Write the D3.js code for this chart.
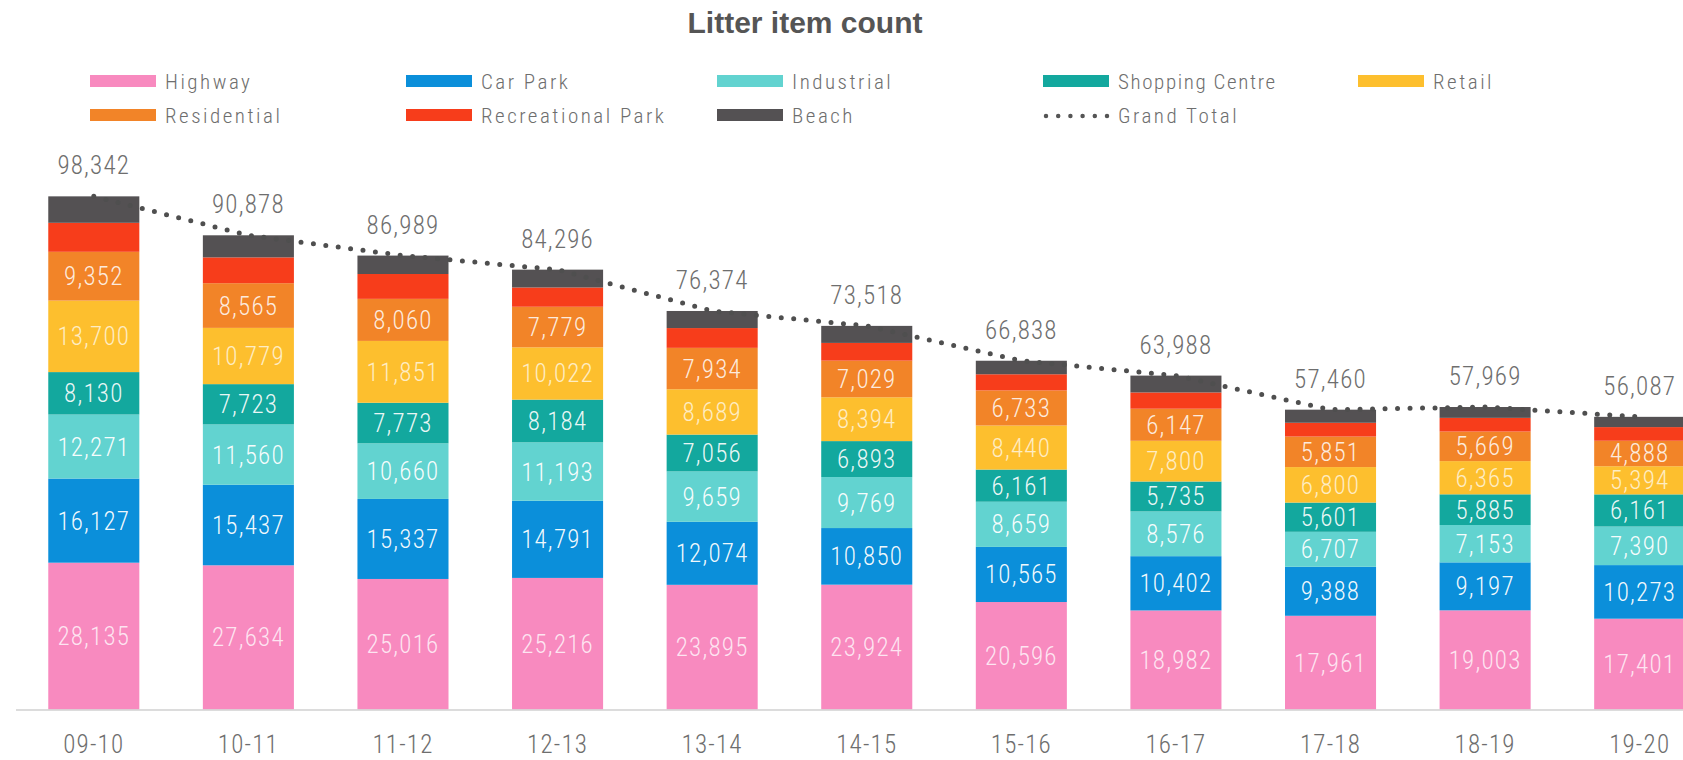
<!DOCTYPE html>
<html>
<head>
<meta charset="utf-8">
<script src="https://cdn.jsdelivr.net/npm/d3@7"></script>
<style>
  html, body { margin: 0; padding: 0; background: #fff; }
  svg { display: block; }
</style>
</head>
<body>
<div id="chart"></div>
<script>
// ---------------- data ----------------
const categories = ["09-10", "10-11", "11-12", "12-13", "13-14", "14-15", "15-16", "16-17", "17-18", "18-19", "19-20"];
const highway     = [28135, 27634, 25016, 25216, 23895, 23924, 20596, 18982, 17961, 19003, 17401];
const carPark     = [16127, 15437, 15337, 14791, 12074, 10850, 10565, 10402, 9388, 9197, 10273];
const industrial  = [12271, 11560, 10660, 11193, 9659, 9769, 8659, 8576, 6707, 7153, 7390];
const shopping    = [8130, 7723, 7773, 8184, 7056, 6893, 6161, 5735, 5601, 5885, 6161];
const retail      = [13700, 10779, 11851, 10022, 8689, 8394, 8440, 7800, 6800, 6365, 5394];
const residential = [9352, 8565, 8060, 7779, 7934, 7029, 6733, 6147, 5851, 5669, 4888];
const recPark     = [5557, 4946, 4762, 3691, 3793, 3395, 3092, 3117, 2642, 2620, 2614];
const beach       = [5070, 4234, 3530, 3420, 3274, 3264, 2592, 3229, 2510, 2077, 1966];
const grandTotal  = [98342, 90878, 86989, 84296, 76374, 73518, 66838, 63988, 57460, 57969, 56087];

const seriesNames = ["Highway", "Car Park", "Industrial", "Shopping Centre", "Retail", "Residential", "Recreational Park", "Beach"];
const seriesValues = [highway, carPark, industrial, shopping, retail, residential, recPark, beach];
const seriesColors = ["#F88ABF", "#0B8FDA", "#62D3D0", "#13A89E", "#FDBF2E", "#F28428", "#F73D1B", "#545153"];
const labelOpacity = [0.78, 0.95, 0.95, 0.92, 0.72, 0.85, 0, 0];
const showLabel = [true, true, true, true, true, true, false, false];

// ---------------- layout ----------------
const W = 1683, H = 760;
const numFont = "'Roboto Condensed', 'Liberation Sans Narrow', 'Arial Narrow', Roboto, sans-serif";
const textGray = "#6e6e6e";

const svg = d3.select("#chart").append("svg").attr("width", W).attr("height", H);

const x = d3.scaleBand().domain(categories).range([16.5, 1717]).paddingInner(0.411).paddingOuter(0.2055);
const y = d3.scaleLinear().domain([0, 100000]).range([709.5, 187.7]);

const table = categories.map((c, i) => {
  const row = { cat: c };
  seriesNames.forEach((s, k) => row[s] = seriesValues[k][i]);
  return row;
});
const stacked = d3.stack().keys(seriesNames)(table);

// title
svg.append("text").attr("x", 805).attr("y", 33).attr("text-anchor", "middle")
  .attr("font-family", "'Liberation Sans', Arial, sans-serif").attr("font-weight", "bold")
  .attr("font-size", 30).attr("fill", "#555").text("Litter item count");

// legend
const legendCols = [90, 406, 717, 1043, 1358];
const legendRows = [81, 115];
const legendItems = seriesNames.map((s, k) => ({ name: s, color: seriesColors[k], type: "bar" }));
legendItems.push({ name: "Grand Total", color: "#555", type: "line" });
const lg = svg.append("g");
legendItems.forEach((it, i) => {
  const cx = legendCols[i % 5], cy = legendRows[Math.floor(i / 5)];
  if (it.type === "bar") {
    lg.append("rect").attr("x", cx).attr("y", cy - 6).attr("width", 66).attr("height", 12).attr("fill", it.color);
  } else {
    lg.append("line").attr("x1", cx + 3).attr("x2", cx + 64).attr("y1", cy + 1).attr("y2", cy + 1)
      .attr("stroke", it.color).attr("stroke-width", 4.5).attr("stroke-linecap", "round")
      .attr("stroke-dasharray", "0 12.2");
  }
  lg.append("text").attr("x", cx + 75).attr("y", cy + 7.5)
    .attr("font-family", numFont).attr("font-weight", 300).attr("font-size", 21)
    .attr("letter-spacing", it.name === "Shopping Centre" ? 1.6 : 2.5)
    .attr("fill", textGray).text(it.name);
});

// bars
const gBars = svg.append("g");
stacked.forEach((layer, k) => {
  gBars.append("g").attr("fill", seriesColors[k])
    .selectAll("rect").data(layer).join("rect")
    .attr("x", d => x(d.data.cat))
    .attr("width", x.bandwidth())
    .attr("y", d => y(d[1]))
    .attr("height", d => y(d[0]) - y(d[1]));
});

// axis baseline and category labels
const xAxis = d3.axisBottom(x).tickSize(0).tickPadding(0);
const axG = svg.append("g").attr("transform", `translate(0, ${y(0)})`).call(xAxis);
axG.select(".domain").attr("d", `M16,0.5H${W}`).attr("stroke", "#d0d0d0").attr("stroke-width", 1.5);
axG.selectAll(".tick text").attr("y", 43).attr("dy", 0)
  .attr("font-family", numFont).attr("font-weight", 300).attr("font-size", 25).attr("letter-spacing", 1.2)
  .attr("fill", textGray);

// segment labels
const fmt = d3.format(",");
const gLab = svg.append("g");
stacked.forEach((layer, k) => {
  if (!showLabel[k]) return;
  gLab.append("g").selectAll("text").data(layer).join("text")
    .attr("x", d => x(d.data.cat) + x.bandwidth() / 2)
    .attr("y", d => (y(d[0]) + y(d[1])) / 2 + 9)
    .attr("text-anchor", "middle")
    .attr("font-family", numFont).attr("font-weight", 300).attr("font-size", 25).attr("letter-spacing", 1.2)
    .attr("fill", "#fff").attr("fill-opacity", labelOpacity[k])
    .text(d => fmt(d[1] - d[0]));
});

// grand total dotted line
const line = d3.line().x((d, i) => x(categories[i]) + x.bandwidth() / 2).y(d => y(d));
svg.append("path").datum(grandTotal).attr("d", line)
  .attr("fill", "none").attr("stroke", "#4f4f4f").attr("stroke-width", 5)
  .attr("stroke-linecap", "round").attr("stroke-dasharray", "0 12.5");

// grand total labels
svg.append("g").selectAll("text").data(grandTotal).join("text")
  .attr("x", (d, i) => x(categories[i]) + x.bandwidth() / 2)
  .attr("y", d => y(d) - 22)
  .attr("text-anchor", "middle")
  .attr("font-family", numFont).attr("font-weight", 300).attr("font-size", 25).attr("letter-spacing", 1.2)
  .attr("fill", textGray).text(d => fmt(d));
</script>
</body>
</html>
